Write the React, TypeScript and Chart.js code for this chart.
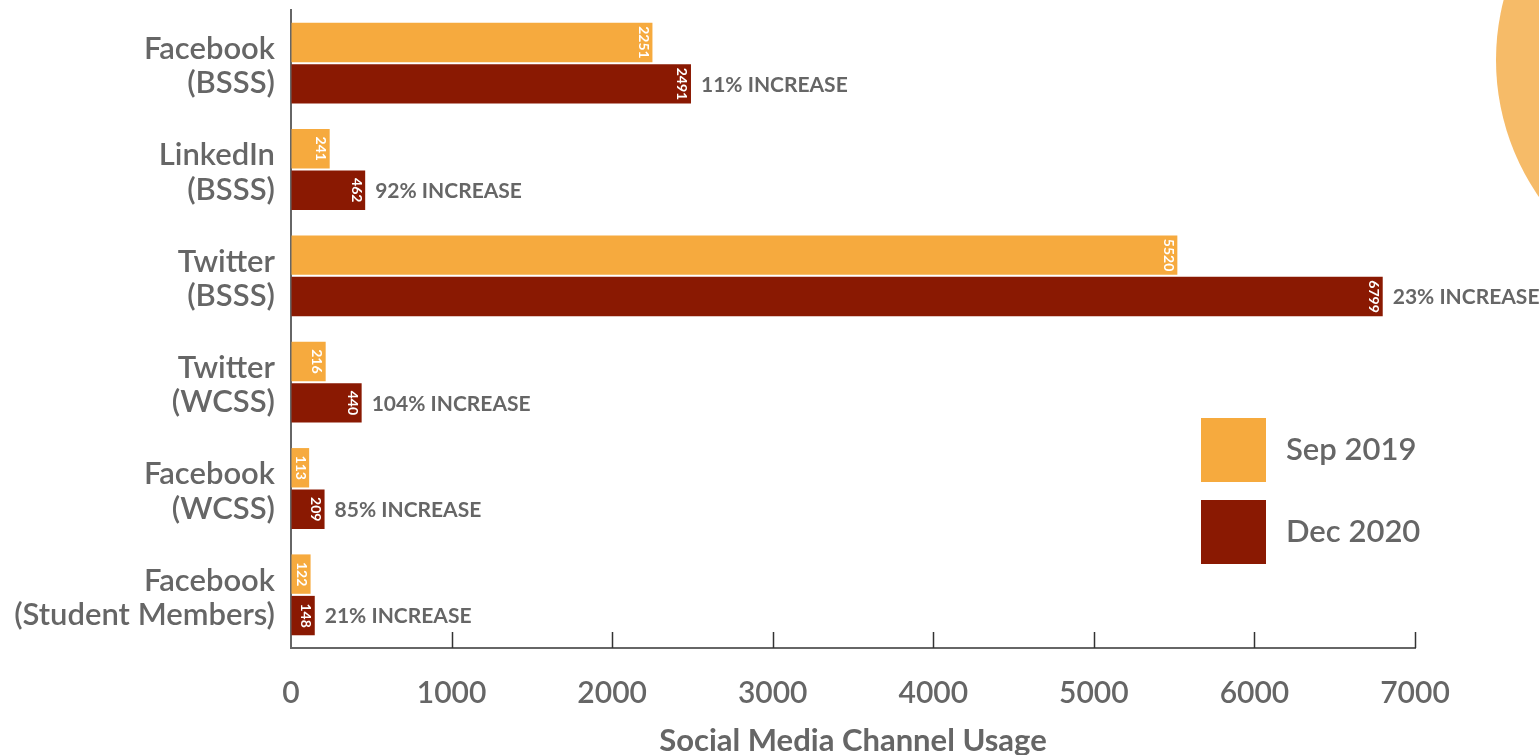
import React, { useEffect, useRef } from "react";
import { Chart, registerables } from "chart.js";

Chart.register(...registerables);

const categories: string[][] = [
  ["Facebook", "(BSSS)"],
  ["LinkedIn", "(BSSS)"],
  ["Twitter", "(BSSS)"],
  ["Twitter", "(WCSS)"],
  ["Facebook", "(WCSS)"],
  ["Facebook", "(Student Members)"],
];
const sep2019: number[] = [2251, 241, 5520, 216, 113, 122];
const dec2020: number[] = [2491, 462, 6799, 440, 209, 148];
const increaseLabels: string[] = [
  "11% INCREASE",
  "92% INCREASE",
  "23% INCREASE",
  "104% INCREASE",
  "85% INCREASE",
  "21% INCREASE",
];
const seriesNames: string[] = ["Sep 2019", "Dec 2020"];
const xTicks: number[] = [0, 1000, 2000, 3000, 4000, 5000, 6000, 7000];

const ORANGE = "#F6AA3E";
const DARKRED = "#8A1902";
const GRAY = "#666666";
const FONT = "Lato";
const MID = "600";

const decorPlugin = {
  id: "decor",
  beforeDraw(chart: any) {
    const ctx = chart.ctx;
    ctx.save();
    ctx.fillStyle = "#F6BB68";
    ctx.beginPath();
    ctx.arc(1736, 60, 240, 0, Math.PI * 2);
    ctx.fill();
    ctx.restore();
  },
  afterDatasetsDraw(chart: any) {
    const ctx = chart.ctx;
    ctx.save();
    chart.data.datasets.forEach((ds: any, di: number) => {
      const meta = chart.getDatasetMeta(di);
      meta.data.forEach((bar: any, i: number) => {
        const v = ds.data[i];
        ctx.save();
        ctx.translate(bar.x - 9, bar.y);
        ctx.rotate(Math.PI / 2);
        ctx.fillStyle = "#FFFFFF";
        ctx.font = `bold 14px ${FONT}`;
        ctx.textAlign = "center";
        ctx.textBaseline = "middle";
        ctx.fillText(String(v), 0, 0);
        ctx.restore();
        if (di === 1) {
          ctx.fillStyle = GRAY;
          ctx.font = `bold 21px ${FONT}`;
          ctx.textAlign = "left";
          ctx.textBaseline = "middle";
          ctx.fillText(increaseLabels[i], bar.x + 10, bar.y + 1);
        }
      });
    });
    ctx.restore();
  },
  afterDraw(chart: any) {
    const ctx = chart.ctx;
    const xs = chart.scales.x;
    const area = chart.chartArea;
    ctx.save();
    ctx.strokeStyle = "#333333";
    ctx.lineWidth = 1.5;
    xTicks.forEach((t) => {
      if (t === 0) return;
      const px = Math.round(xs.getPixelForValue(t)) + 0.5;
      ctx.beginPath();
      ctx.moveTo(px, area.bottom);
      ctx.lineTo(px, area.bottom - 16);
      ctx.stroke();
    });
    // legend
    const colors = [ORANGE, DARKRED];
    const tops = [418, 500];
    seriesNames.forEach((name, i) => {
      ctx.fillStyle = colors[i];
      ctx.fillRect(1201, tops[i], 65, 64);
      ctx.fillStyle = GRAY;
      ctx.font = `${MID} 31px ${FONT}`;
      ctx.textAlign = "left";
      ctx.textBaseline = "middle";
      ctx.fillText(name, 1286, tops[i] + 32);
    });
    ctx.restore();
  },
};

export default function App() {
  const ref = useRef<HTMLCanvasElement | null>(null);
  useEffect(() => {
    document.body.style.margin = "0";
    if (!ref.current) return;
    const chart = new Chart(ref.current, {
      type: "bar",
      data: {
        labels: categories,
        datasets: [
          {
            label: seriesNames[0],
            data: sep2019,
            backgroundColor: ORANGE,
            categoryPercentage: 0.78,
            barPercentage: 0.95,
          },
          {
            label: seriesNames[1],
            data: dec2020,
            backgroundColor: DARKRED,
            categoryPercentage: 0.78,
            barPercentage: 0.95,
          },
        ],
      },
      options: {
        indexAxis: "y",
        responsive: false,
        animation: false,
        layout: { padding: { top: 10, right: 124, left: 0, bottom: 0 } },
        plugins: {
          legend: { display: false },
          tooltip: { enabled: false },
        },
        scales: {
          x: {
            min: 0,
            max: 7000,
            ticks: {
              stepSize: 1000,
              color: GRAY,
              font: { family: FONT, size: 30, weight: MID },
              padding: 27,
              maxRotation: 0,
              callback: (v: any) => String(v),
            },
            grid: { display: true, drawOnChartArea: false, drawTicks: false },
            border: { display: true, color: GRAY, width: 2 },
            title: {
              display: true,
              text: "Social Media Channel Usage",
              color: GRAY,
              font: { family: FONT, size: 31, weight: "bold" },
              padding: { top: 0, bottom: -5 },
            },
            afterFit(scale: any) {
              scale.height = 107;
              scale.paddingLeft = 0;
              scale.paddingRight = 0;
            },
          },
          y: {
            ticks: {
              color: GRAY,
              font: { family: FONT, size: 31, lineHeight: 1.1, weight: MID },
              padding: 16,
              labelOffset: 3,
            },
            grid: { display: true, drawOnChartArea: false, drawTicks: false },
            border: { display: true, color: GRAY, width: 2 },
            afterFit(scale: any) {
              scale.width = 291;
              scale.paddingTop = 0;
              scale.paddingBottom = 0;
            },
          },
        },
      },
      plugins: [decorPlugin],
    } as any);
    return () => chart.destroy();
  }, []);
  return (
    <div style={{ position: "absolute", left: 0, top: 0, width: 1539, height: 755 }}>
      <canvas ref={ref} width={1539} height={755} style={{ width: 1539, height: 755 }} />
    </div>
  );
}
